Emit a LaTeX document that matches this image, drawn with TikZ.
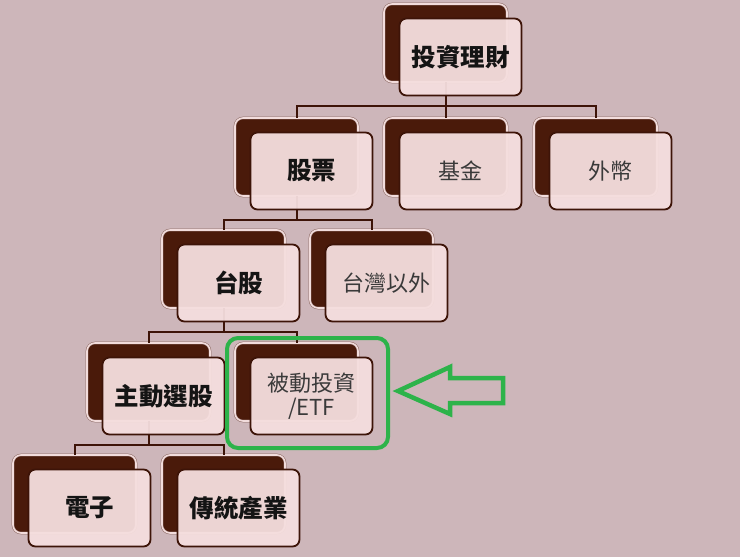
\documentclass[tikz,border=0pt]{standalone}
\usepackage{fontspec}
\newfontfamily\cjk{Noto Sans CJK TC}
\definecolor{bgc}{HTML}{CDB6BA}
\definecolor{darkb}{HTML}{4A1A0A}
\definecolor{lineb}{HTML}{3D1408}
\definecolor{frontc}{HTML}{F5DEDE}
\definecolor{ringc}{HTML}{F2DCDC}
\definecolor{ringl}{HTML}{8C6A64}
\definecolor{greenc}{HTML}{2DB34A}
\definecolor{greyt}{HTML}{3A3A3A}
\tikzset{
  backbox/.style={rectangle, rounded corners=8pt, minimum width=123pt, minimum height=78pt,
    fill=darkb, draw=ringl, double=ringc, double distance=1.6pt, line width=0.5pt, inner sep=0pt},
  frontbox/.style={rectangle, rounded corners=7pt, minimum width=122pt, minimum height=77pt,
    fill=frontc, fill opacity=0.95, text opacity=1, draw=lineb, line width=1.8pt, inner sep=2pt,
    align=center},
  boldlbl/.style={font=\cjk\bfseries\fontsize{24.5}{28}\selectfont, text=black!92},
  plainlbl/.style={font=\cjk\fontsize{22}{25}\selectfont, text=greyt},
  conn/.style={draw=lineb, line width=2pt},
  hilite/.style={draw=greenc, line width=4pt, rounded corners=11pt},
}
\begin{document}
\begin{tikzpicture}[x=1pt,y=-1pt]
\fill[bgc] (0,0) rectangle (740,557);
\useasboundingbox (0,0) rectangle (740,557);
% back boxes
\node[backbox] (top-b) at (445.5,43) {};
\node[backbox] (gp-b) at (296.5,157) {};
\node[backbox] (jj-b) at (445.5,157) {};
\node[backbox] (wb-b) at (595.5,157) {};
\node[backbox] (tg-b) at (223.5,269) {};
\node[backbox] (tw-b) at (371.5,269) {};
\node[backbox] (zd-b) at (148.5,382) {};
\node[backbox] (bd-b) at (296.5,382) {};
\node[backbox] (dz-b) at (74.5,494) {};
\node[backbox] (ct-b) at (223.5,494) {};
% connectors
\draw[conn] (top-b.south) -- ++(0,24) -| (gp-b.north);
\draw[conn] (top-b.south) -- ++(0,24) -| (jj-b.north);
\draw[conn] (top-b.south) -- ++(0,24) -| (wb-b.north);
\draw[conn] (gp-b.south) -- ++(0,24) -| (tg-b.north);
\draw[conn] (gp-b.south) -- ++(0,24) -| (tw-b.north);
\draw[conn] (tg-b.south) -- ++(0,24) -| (zd-b.north);
\draw[conn] (tg-b.south) -- ++(0,24) -| (bd-b.north);
\draw[conn] (zd-b.south) -- ++(0,24) -| (dz-b.north);
\draw[conn] (zd-b.south) -- ++(0,24) -| (ct-b.north);
% front boxes
\node[frontbox, boldlbl] (top) at (460.5,57) {投資理財};
\node[frontbox, boldlbl] (gp) at (311.5,171) {股票};
\node[frontbox, plainlbl] (jj) at (460.5,171) {基金};
\node[frontbox, plainlbl] (wb) at (610.5,171) {外幣};
\node[frontbox, boldlbl] (tg) at (238.5,283) {台股};
\node[frontbox, plainlbl] (tw) at (386.5,283) {台灣以外};
\node[frontbox, plainlbl, font=\cjk\fontsize{22}{24}\selectfont] (bd) at (311.5,396) {被動投資\\/ETF};
\node[frontbox, boldlbl] (zd) at (163.5,396) {主動選股};
\node[frontbox, boldlbl] (dz) at (89.5,508) {電子};
\node[frontbox, boldlbl] (ct) at (238.5,508) {傳統產業};
% highlight
\draw[hilite] (227,338) rectangle (388,448);
\draw[draw=greenc, line width=4.5pt, line join=miter]
  (398,391) -- (450,367) -- (450,378) -- (503,378) -- (503,403) -- (450,403) -- (450,414) -- cycle;
\end{tikzpicture}
\end{document}
